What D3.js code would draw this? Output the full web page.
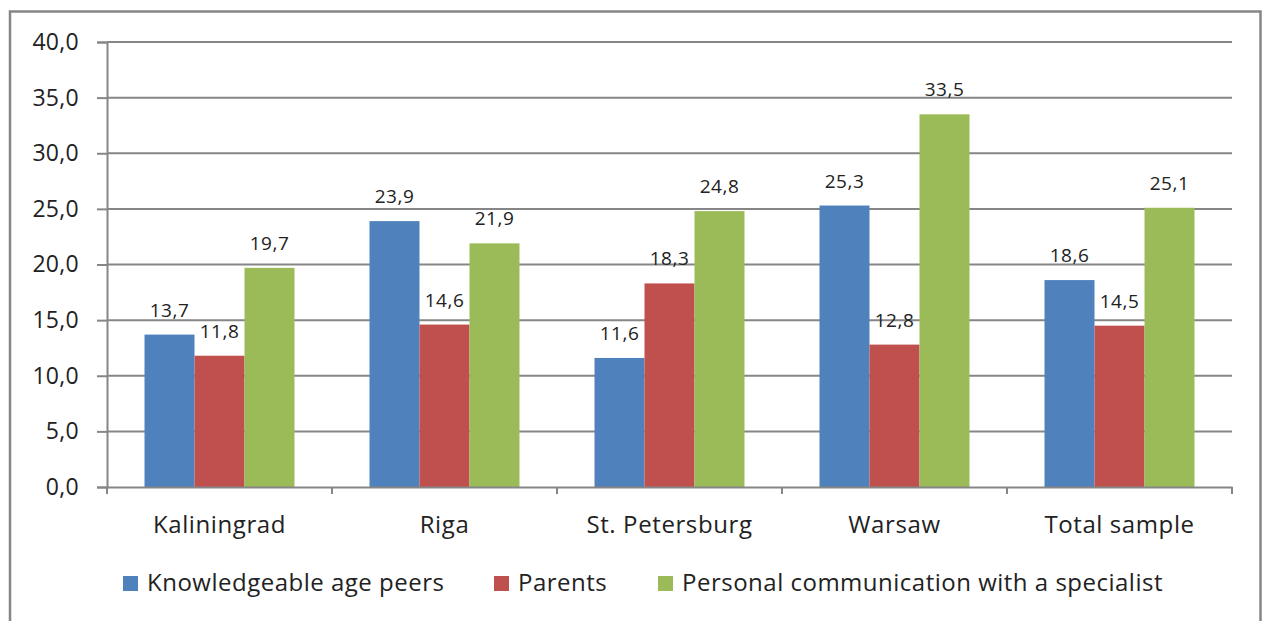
<!DOCTYPE html>
<html>
<head>
<meta charset="utf-8">
<script src="https://cdn.jsdelivr.net/npm/d3@7"></script>
<style>
  body { margin: 0; background: #fff; }
  svg { display: block; font-family: "Open Sans", "DejaVu Sans", sans-serif; }
</style>
</head>
<body>
<div id="chart"></div>
<script>
var categories = ["Kaliningrad", "Riga", "St. Petersburg", "Warsaw", "Total sample"];
var seriesNames = ["Knowledgeable age peers", "Parents", "Personal communication with a specialist"];
var peers = [13.7, 23.9, 11.6, 25.3, 18.6];
var parents = [11.8, 14.6, 18.3, 12.8, 14.5];
var specialist = [19.7, 21.9, 24.8, 33.5, 25.1];
var yTicks = [0, 5, 10, 15, 20, 25, 30, 35, 40];
var colors = ["#4f81bd", "#c0504d", "#9bbb59"];

var W = 1263, H = 621;
var svg = d3.select("#chart").append("svg").attr("width", W).attr("height", H);

// outer frame (bottom edge is cut off in the picture)
svg.append("rect")
  .attr("x", 10).attr("y", 11.5).attr("width", 1250.5).attr("height", 640)
  .attr("fill", "none").attr("stroke", "#868686").attr("stroke-width", 2.5);

var plotLeft = 107, plotRight = 1232, plotTop = 42, plotBottom = 487;
var fmt = function (d) { return d3.format(".1f")(d).replace(".", ","); };

var x = d3.scaleBand().domain(categories).range([plotLeft, plotRight]);
var series = seriesNames.map(function (n, i) { return { name: n, values: [peers, parents, specialist][i] }; });
var xs = d3.scaleBand().domain(seriesNames).range([0, x.bandwidth()]).paddingOuter(0.75).paddingInner(0);
var y = d3.scaleLinear().domain([0, 40]).range([plotBottom, plotTop]);

// gridlines
svg.append("g").selectAll("line").data(yTicks.filter(function (d) { return d > 0; })).enter().append("line")
  .attr("x1", plotLeft).attr("x2", plotRight)
  .attr("y1", function (d) { return y(d); }).attr("y2", function (d) { return y(d); })
  .attr("stroke", "#868686").attr("stroke-width", 2);

// y axis
var yAxis = svg.append("g").attr("transform", "translate(" + plotLeft + ",0)")
  .call(d3.axisLeft(y).tickValues(yTicks).tickSize(10).tickPadding(18).tickFormat(fmt));
yAxis.select(".domain").attr("stroke", "#868686").attr("stroke-width", 2);
yAxis.selectAll(".tick line").attr("stroke", "#868686").attr("stroke-width", 2);
yAxis.selectAll(".tick text").attr("font-size", 23).attr("fill", "#222")
  .attr("font-family", "Open Sans, sans-serif").attr("letter-spacing", 0.3);

// bars
var groups = svg.append("g").selectAll("g").data(series).enter().append("g")
  .attr("fill", function (d, i) { return colors[i]; });
var rows = function (s) {
  return s.values.map(function (v, j) { return { s: s.name, c: categories[j], v: v }; });
};
groups.selectAll("rect").data(rows).enter().append("rect")
  .attr("x", function (d) { return x(d.c) + xs(d.s); })
  .attr("width", xs.bandwidth())
  .attr("y", function (d) { return y(d.v); })
  .attr("height", function (d) { return y(0) - y(d.v); });

// value labels
groups.selectAll("text").data(rows).enter().append("text")
  .attr("x", function (d) { return x(d.c) + xs(d.s) + xs.bandwidth() / 2; })
  .attr("y", function (d) { return y(d.v) - 18; })
  .attr("text-anchor", "middle")
  .attr("font-size", 19).attr("letter-spacing", 0.5).attr("fill", "#222")
  .text(function (d) { return fmt(d.v); });

// x axis
var xAxis = svg.append("g").attr("transform", "translate(0," + plotBottom + ")")
  .call(d3.axisBottom(x).tickSize(0).tickPadding(29));
xAxis.select(".domain").attr("stroke", "#868686").attr("stroke-width", 2);
xAxis.selectAll(".tick text").attr("font-size", 24).attr("fill", "#222")
  .attr("font-family", "Open Sans, sans-serif").attr("letter-spacing", 0.6);
svg.append("g").selectAll("line").data(d3.range(categories.length + 1)).enter().append("line")
  .attr("x1", function (i) { return plotLeft + i * x.step(); })
  .attr("x2", function (i) { return plotLeft + i * x.step(); })
  .attr("y1", plotBottom).attr("y2", plotBottom + 7)
  .attr("stroke", "#868686").attr("stroke-width", 2);

// legend
var legendX = [123, 494, 658];
var legend = svg.append("g").selectAll("g").data(seriesNames).enter().append("g")
  .attr("transform", function (d, i) { return "translate(" + legendX[i] + ",576)"; });
legend.append("rect").attr("width", 15).attr("height", 15)
  .attr("fill", function (d, i) { return colors[i]; });
legend.append("text").attr("x", 24).attr("y", 15).attr("font-size", 24)
  .attr("letter-spacing", 0.5).attr("fill", "#222")
  .text(function (d) { return d; });
</script>
</body>
</html>
